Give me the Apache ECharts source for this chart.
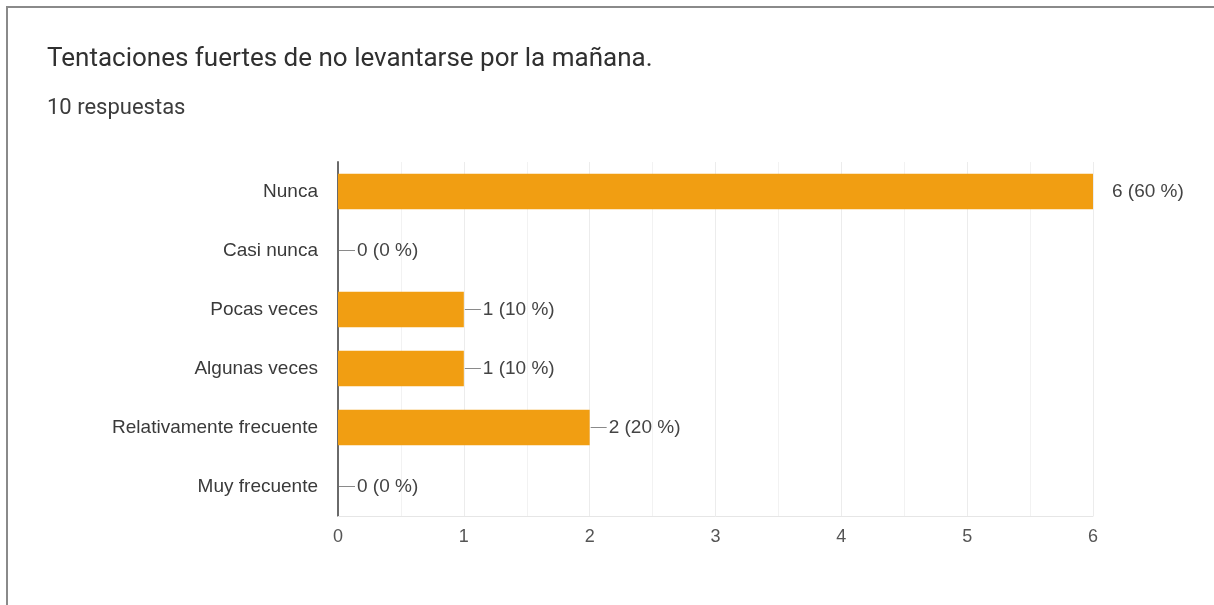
<!DOCTYPE html>
<html>
<head>
<meta charset="utf-8">
<script src="https://cdn.jsdelivr.net/npm/echarts@6/dist/echarts.min.js"></script>
<style>
  html, body { margin: 0; padding: 0; background: #fff; }
  #frame { position: absolute; left: 6px; top: 6px; width: 1208px; height: 599px;
           border-top: 2px solid #8a8a8a; border-left: 2px solid #8a8a8a; box-sizing: border-box; }
  #chart { width: 1214px; height: 605px; }
</style>
</head>
<body>
<div id="chart"></div>
<div id="frame"></div>
<script>
// Survey answers (top to bottom) and their response counts
const categories = ['Nunca', 'Casi nunca', 'Pocas veces', 'Algunas veces', 'Relativamente frecuente', 'Muy frecuente'];
const counts = [6, 0, 1, 1, 2, 0];
const totalResponses = 10;
const xTicks = [0, 1, 2, 3, 4, 5, 6];

const chart = echarts.init(document.getElementById('chart'));

const barData = counts.map((v) => {
  const pct = Math.round(v / totalResponses * 100);
  const text = v + ' (' + pct + ' %)';
  const isMax = v === Math.max(...counts);
  return {
    value: v,
    label: {
      // the longest bar gets a gap instead of a leader line
      formatter: isMax ? '{g|}{t|' + text + '}' : '{l|}{t|' + text + '}'
    }
  };
});

chart.setOption({
  animation: false,
  title: [
    {
      text: 'Tentaciones fuertes de no levantarse por la mañana.',
      left: 47, top: 46, padding: 0,
      textStyle: { fontFamily: 'Roboto', fontSize: 26, fontWeight: 'normal', color: '#303030' }
    },
    {
      text: totalResponses + ' respuestas',
      left: 47, top: 97, padding: 0,
      textStyle: { fontFamily: 'Roboto', fontSize: 22, fontWeight: 'normal', color: '#3c3c3c' }
    }
  ],
  grid: { left: 338, right: 121, top: 162, bottom: 89, containLabel: false },
  xAxis: {
    type: 'value',
    min: xTicks[0], max: xTicks[xTicks.length - 1], interval: 1,
    axisLine: { show: true, lineStyle: { color: '#e6e6e6', width: 1 } },
    axisTick: { show: false },
    splitLine: { show: true, lineStyle: { color: '#ececec', width: 1 } },
    minorTick: { show: false, splitNumber: 2 },
    minorSplitLine: { show: true, lineStyle: { color: '#f2f2f2', width: 1 } },
    axisLabel: { fontFamily: 'Liberation Sans', fontSize: 18, color: '#555', margin: 12 }
  },
  yAxis: {
    type: 'category',
    data: categories,
    inverse: true,
    axisLine: { show: true, lineStyle: { color: '#6a6a6a', width: 2 } },
    axisTick: { show: false },
    axisLabel: { fontFamily: 'Liberation Sans', fontSize: 19, color: '#3a3a3a', margin: 20 }
  },
  series: [{
    type: 'bar',
    data: barData,
    barCategoryGap: '40%',
    itemStyle: { color: '#f19e12' },
    label: {
      show: true,
      position: 'right',
      distance: 1,
      rich: {
        l: { width: 16, height: 1, backgroundColor: '#8a8a8a' },
        g: { width: 16, height: 1 },
        t: { fontFamily: 'Liberation Sans', fontSize: 19, color: '#444', padding: [0, 0, 0, 2] }
      }
    }
  }]
});
</script>
</body>
</html>
